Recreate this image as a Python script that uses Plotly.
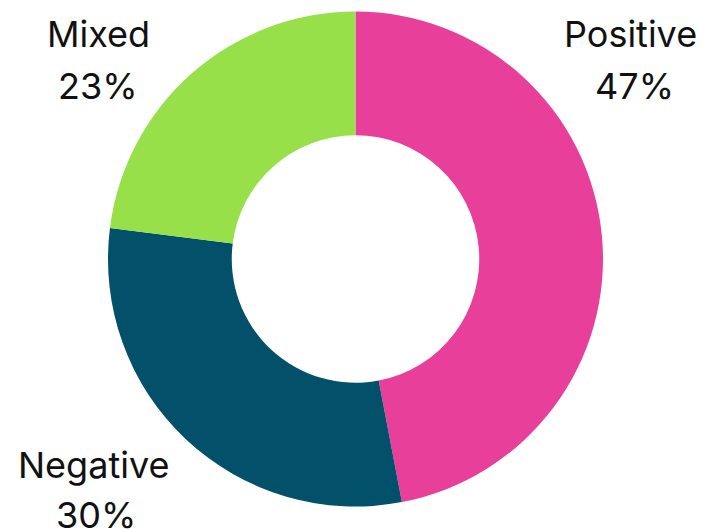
import plotly.graph_objects as go

# Sentiment breakdown
categories = ["Positive", "Negative", "Mixed"]
shares = [47, 30, 23]
colors = ["#E8409A", "#02506A", "#98E04A"]

W, H = 712, 532

# Donut geometry in pixels (center and outer radius)
cx, cy, r = 355.5, 259, 247.5

fig = go.Figure(
    go.Pie(
        labels=categories,
        values=shares,
        hole=0.5,
        sort=False,
        direction="clockwise",
        rotation=0,
        marker=dict(colors=colors, line=dict(width=0)),
        textinfo="none",
        hoverinfo="label+percent",
        domain=dict(
            x=[(cx - r) / W, (cx + r) / W],
            y=[1 - (cy + r) / H, 1 - (cy - r) / H],
        ),
    )
)

# Label positions (pixel centres of the name line and the percent line)
label_pos = {
    "Positive": ((630, 34), (634, 86)),
    "Negative": ((94, 465), (96, 515)),
    "Mixed": ((98, 34), (98, 86)),
}

font = dict(family="Inter, Open Sans, sans-serif", size=36, color="#111111")
total = sum(shares)
for name, val in zip(categories, shares):
    (nx, ny), (px, py) = label_pos[name]
    fig.add_annotation(
        x=nx / W, y=1 - ny / H, xref="paper", yref="paper",
        text=name, showarrow=False, xanchor="center", yanchor="middle", font=font,
    )
    fig.add_annotation(
        x=px / W, y=1 - py / H, xref="paper", yref="paper",
        text=f"{round(100 * val / total)}%", showarrow=False,
        xanchor="center", yanchor="middle", font=font,
    )

fig.update_layout(
    width=W,
    height=H,
    margin=dict(l=0, r=0, t=0, b=0),
    showlegend=False,
    paper_bgcolor="white",
    plot_bgcolor="white",
)

fig.write_html("out.html")
